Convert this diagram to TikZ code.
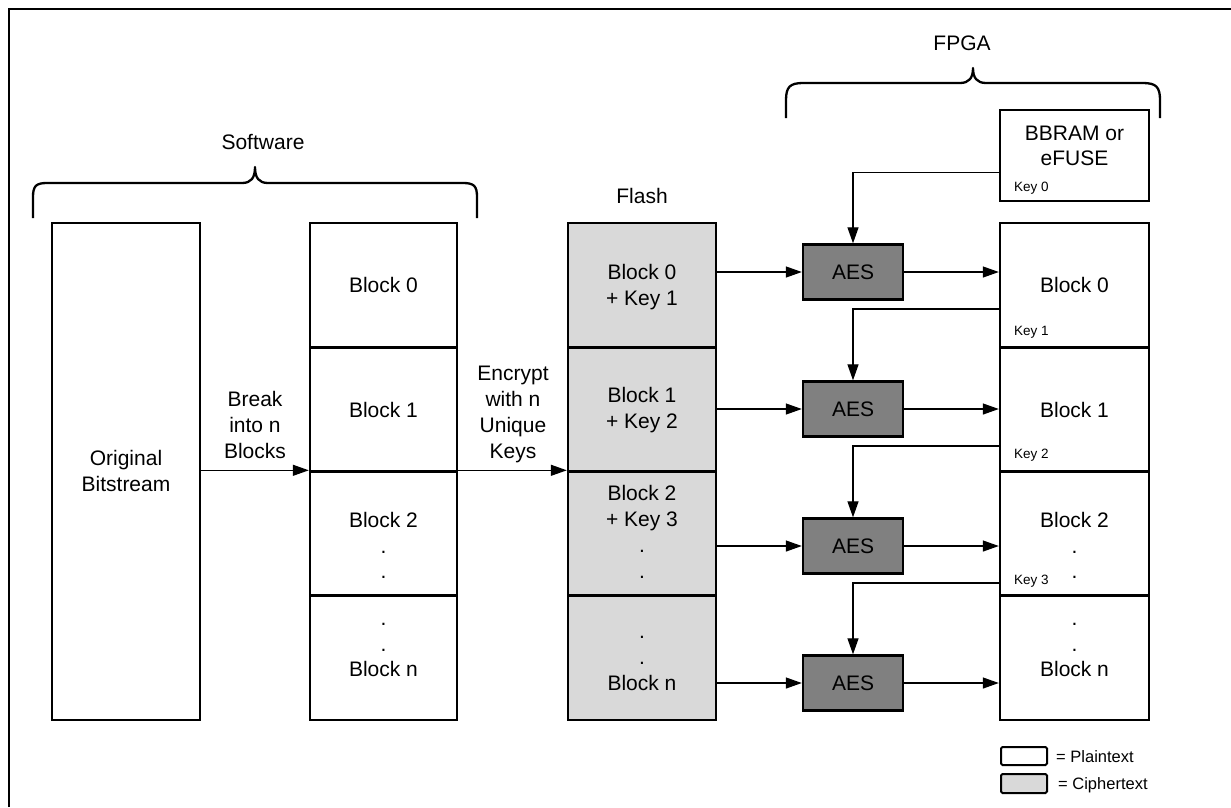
\documentclass[tikz,border=0pt]{standalone}
\usepackage{fontspec}
\setmainfont{Liberation Sans}
\usetikzlibrary{arrows.meta,calc,fit}

% every text line gets the same box, centred on the middle of the capitals
\newcommand\lnstrut{\rule[-5.35pt]{0pt}{25.7pt}}
\newcommand\mainsize{\fontsize{21pt}{25.7pt}\selectfont}

\definecolor{ciph}{HTML}{D9D9D9}
\definecolor{aesgray}{HTML}{808080}

\tikzset{
  pbox/.style={draw, line width=2.4pt, inner sep=0pt, fill=white},
  cbox/.style={pbox, fill=ciph},
  aesbox/.style={draw, line width=2.4pt, fill=aesgray, inner sep=0pt,
                 minimum width=100pt, minimum height=55pt, font=\mainsize},
  txt/.style={font=\mainsize, align=center, inner sep=0pt},
  keytxt/.style={font=\fontsize{13.5pt}{16pt}\selectfont, inner sep=0pt, anchor=base west},
  legtxt/.style={font=\fontsize{16.5pt}{20pt}\selectfont, inner sep=0pt, anchor=west},
  arr/.style={line width=1.3pt, -{Triangle[length=16pt,width=11pt]}},
  brace/.style={line width=2.3pt, line join=round},
}

\begin{document}
\begin{tikzpicture}[x=1pt, y=-1pt]
\useasboundingbox (0,0) rectangle (1231,807);

% outer frame
\draw[line width=2pt] (8.5,807) -- (8.5,8.5) -- (1231,8.5);

% ---- Software ----
\draw[brace] (33,218) -- (33,197) .. controls (33,186) and (36,183) .. (47,183)
  -- (242,183) .. controls (251,183) and (255,178) .. (255,167)
  .. controls (255,178) and (259,183) .. (268,183)
  -- (463,183) .. controls (474,183) and (477,186) .. (477,197) -- (477,218);
\node[txt] (lsw) at (263,142) {Software};

\node[pbox, fit={(52,223)(200,720)}] (ob) {};
\node[txt] (tob) at (126,471) {\lnstrut Original\\\lnstrut Bitstream};

\node[pbox, fit={(310,223)(457,347.5)}] (s0) {};
\node[pbox, fit={(310,347.5)(457,471.5)}] (s1) {};
\node[pbox, fit={(310,471.5)(457,595.5)}] (s2) {};
\node[pbox, fit={(310,595.5)(457,720)}] (s3) {};
\node[txt] (ts0) at (383.5,285) {\lnstrut Block 0};
\node[txt] (ts1) at (383.5,409.5) {\lnstrut Block 1};
\node[txt] (ts2) at (383.5,545.7) {\lnstrut Block 2\\\lnstrut .\\\lnstrut .};
\node[txt] (ts3) at (383.5,643.5) {\lnstrut .\\\lnstrut .\\\lnstrut Block n};

\node[txt] (tbreak) at (255,425) {\lnstrut Break\\\lnstrut into n\\\lnstrut Blocks};
\draw[arr] (ob.east |- s2.north) -- (s2.north west);

% ---- Flash ----
\node[txt] (lfl) at (642,196) {Flash};
\node[cbox, fit={(568,223)(716,347.5)}] (f0) {};
\node[cbox, fit={(568,347.5)(716,471.5)}] (f1) {};
\node[cbox, fit={(568,471.5)(716,595.5)}] (f2) {};
\node[cbox, fit={(568,595.5)(716,720)}] (f3) {};
\node[txt] (tf0) at (642,285) {\lnstrut Block 0\\\lnstrut + Key 1};
\node[txt] (tf1) at (642,408) {\lnstrut Block 1\\\lnstrut + Key 2};
\node[txt] (tf2) at (642,532) {\lnstrut Block 2\\\lnstrut + Key 3\\\lnstrut .\\\lnstrut .};
\node[txt] (tf3) at (642,657) {\lnstrut .\\\lnstrut .\\\lnstrut Block n};

\node[txt] (tenc) at (513,412) {\lnstrut Encrypt\\\lnstrut with n\\\lnstrut Unique\\\lnstrut Keys};
\draw[arr] (s2.north east) -- (f2.north west);

% ---- FPGA ----
\draw[brace] (786,118) -- (786,100) .. controls (786,87) and (790,83) .. (803,83)
  -- (960,83) .. controls (969,83) and (973,78) .. (973,68)
  .. controls (973,78) and (977,83) .. (986,83)
  -- (1143,83) .. controls (1156,83) and (1160,87) .. (1160,100) -- (1160,118);
\node[txt] (lfpga) at (962,43) {FPGA};

\node[pbox, fit={(1000,110)(1149,200.7)}] (bb) {};
\node[txt] (tbb) at (1074.5,145.5) {\lnstrut BBRAM or\\\lnstrut eFUSE};
\node[keytxt] (key0) at (1014,191.7) {Key 0};

\node[pbox, fit={(1000,223)(1149,347.5)}] (g0) {};
\node[pbox, fit={(1000,347.5)(1149,471.5)}] (g1) {};
\node[pbox, fit={(1000,471.5)(1149,595.5)}] (g2) {};
\node[pbox, fit={(1000,595.5)(1149,720)}] (g3) {};
\node[txt] (tg0) at (1074.5,285) {\lnstrut Block 0};
\node[txt] (tg1) at (1074.5,409.5) {\lnstrut Block 1};
\node[txt] (tg2) at (1074.5,545.7) {\lnstrut Block 2\\\lnstrut .\\\lnstrut .};
\node[txt] (tg3) at (1074.5,643.5) {\lnstrut .\\\lnstrut .\\\lnstrut Block n};
\node[keytxt] (key1) at (1014,335) {Key 1};
\node[keytxt] (key2) at (1014,458.3) {Key 2};
\node[keytxt] (key3) at (1014,584) {Key 3};

% decryption engines
\node[aesbox] (a1) at (853,272) {AES};
\node[aesbox] (a2) at (853,409) {AES};
\node[aesbox] (a3) at (853,546) {AES};
\node[aesbox] (a4) at (853,683) {AES};

\foreach \i/\f/\g in {1/f0/g0, 2/f1/g1, 3/f2/g2, 4/f3/g3} {
  \draw[arr] (\f.east |- a\i) -- (a\i.west);
  \draw[arr] (a\i.east) -- (a\i.east -| \g.west);
}

% key chain: each decrypted block carries the key for the next one
\draw[arr] ([yshift=-17.3pt]bb.west) -| (a1.north);
\coordinate (k1) at ($(a1.center)+(0,37)$);
\coordinate (k2) at ($(a2.center)+(0,37)$);
\coordinate (k3) at ($(a3.center)+(0,37)$);
\draw[arr] (g0.west |- k1) -| (a2.north);
\draw[arr] (g1.west |- k2) -| (a3.north);
\draw[arr] (g2.west |- k3) -| (a4.north);

% ---- legend ----
\node[pbox, line width=2pt, rounded corners=1.5pt, fit={(1001,747)(1047,765)}] (lp) {};
\node[cbox, line width=2pt, rounded corners=1.5pt, fit={(1001,774)(1047,793)}] (lc) {};
\node[legtxt] (tlp) at (1056,757) {= Plaintext};
\node[legtxt] (tlc) at (1058,785.7) {= Ciphertext};
\end{tikzpicture}
\end{document}
